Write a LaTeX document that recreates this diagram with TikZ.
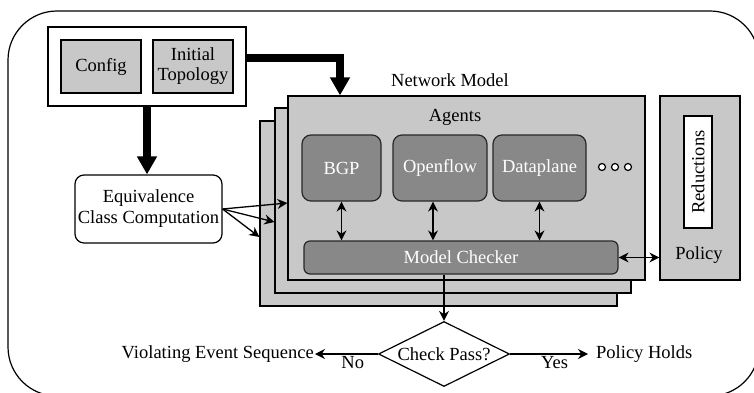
\documentclass[tikz,border=0pt]{standalone}
\usepackage{fontspec}
\setmainfont{Liberation Serif}
\usetikzlibrary{arrows.meta,shapes.geometric}
\definecolor{boxlight}{RGB}{200,200,200}
\definecolor{boxdark}{RGB}{136,136,136}
\definecolor{edgedark}{RGB}{40,40,40}
\tikzset{
  frame/.style={
    line width=1.2pt,
    draw=black
  },
  box-white/.style={
    frame,
    fill=white,
    inner sep=0pt
  },
  box-light/.style={
    frame,
    fill=boxlight,
    inner sep=0pt,
    align=center
  },
  box-dark/.style={
    line width=1.2pt,
    draw=edgedark,
    fill=boxdark,
    text=white,
    rounded corners=9pt,
    inner sep=0pt
  },
  arrow-thin/.style={line width=1.3pt, -{Stealth[length=10pt,width=10pt]}},
  arrow-both/.style={line width=1.3pt, {Stealth[length=10pt,width=10pt]}-{Stealth[length=10pt,width=10pt]}},
  arrow-thick/.style={line width=8pt, -{Triangle[length=18pt,width=19pt]}},
  node-ring/.style={circle, line width=1.2pt, draw=black, fill=white, minimum size=7pt, inner sep=0pt}
}

\begin{document}
\begin{tikzpicture}[x=1pt,y=-1pt,font=\fontsize{18.5}{21}\selectfont]
  \useasboundingbox (0,0) rectangle (754,393);
  \draw[frame, rounded corners=49pt] (8,11) rectangle (759,396);

  % Inputs
  \node[box-white, minimum width=198pt, minimum height=79pt] (inbox) at (147,66.5) {};
  \node[box-light, minimum width=80pt, minimum height=53pt] (config) at (101,66.5) {Config};
  \node[box-light, minimum width=80pt, minimum height=53pt] (topo) at (193,66.5) {Initial\\[-1pt]Topology};

  \node[box-white, rounded corners=9pt, align=center, minimum width=147pt, minimum height=68pt]
    (eqclass) at (148.5,209) {Equivalence\\Class Computation};

  % Network model stack
  \node[box-light, minimum width=357pt, minimum height=185pt] (back) at (438.5,213.5) {};
  \node[box-light, minimum width=356pt, minimum height=185pt] (mid) at (453,200.5) {};
  \node[box-light, minimum width=357pt, minimum height=184pt] (front) at (466.5,188) {};
  \node (netlabel) at (450,80) {Network Model};
  \node (agents) at (455,117) {Agents};

  \node[box-dark, minimum width=79pt, minimum height=66pt] (bgp) at (341.5,168) {BGP};
  \node[box-dark, minimum width=94pt, minimum height=66pt] (openflow) at (440,168) {Openflow};
  \node[box-dark, minimum width=93pt, minimum height=66pt] (dataplane) at (539.5,168) {Dataplane};
  \foreach \x in {602,615,628}
    \node[node-ring] at (\x,167) {};
  \node[box-dark, rounded corners=6pt, minimum width=314pt, minimum height=33pt] (checker) at (461,257.5) {Model Checker};

  % Policy
  \node[box-light, minimum width=80pt, minimum height=184pt] (policy) at (700,188) {};
  \node[box-white, rotate=90, minimum width=112pt, minimum height=28pt] (reduce) at (698,172) {Reductions};
  \node (policylabel) at (699,255) {Policy};

  % Result
  \node[frame, diamond, aspect=2, inner sep=0pt, minimum width=131pt, minimum height=65pt]
    (check) at (444,354) {Check Pass?};
  \node[anchor=east, inner xsep=1pt] (violate) at (315,354) {Violating Event Sequence};
  \node[anchor=west, inner xsep=8pt] (holds) at (588,354) {Policy Holds};

  % Connectors
  \draw[arrow-thick] ([yshift=8pt]inbox.east) -| (340,0 |- front.north);
  \draw[arrow-thick] (inbox.south) -- (inbox.south |- eqclass.north);
  \foreach \s/\y in {front/203, mid/222, back/237}
    \draw[arrow-thin] (eqclass.east) -- (\s.west |- 0,\y);
  \draw[arrow-both] (bgp.south) -- (bgp.south |- checker.north);
  \draw[arrow-both] (openflow.south -| 433,0) -- (checker.north -| 433,0);
  \draw[arrow-both] (dataplane.south) -- (dataplane.south |- checker.north);
  \draw[arrow-both] (checker.east) -- (checker.east -| policy.west);
  \draw[arrow-thin] (checker.south -| check.north) -- (check.north);
  \draw[arrow-thin] (check.west) -- node[below, pos=0.4, inner sep=2pt] {No} (violate.east);
  \draw[arrow-thin] (check.east) -- node[below, pos=0.57, inner sep=2pt] {Yes} (holds.west);
\end{tikzpicture}
\end{document}
